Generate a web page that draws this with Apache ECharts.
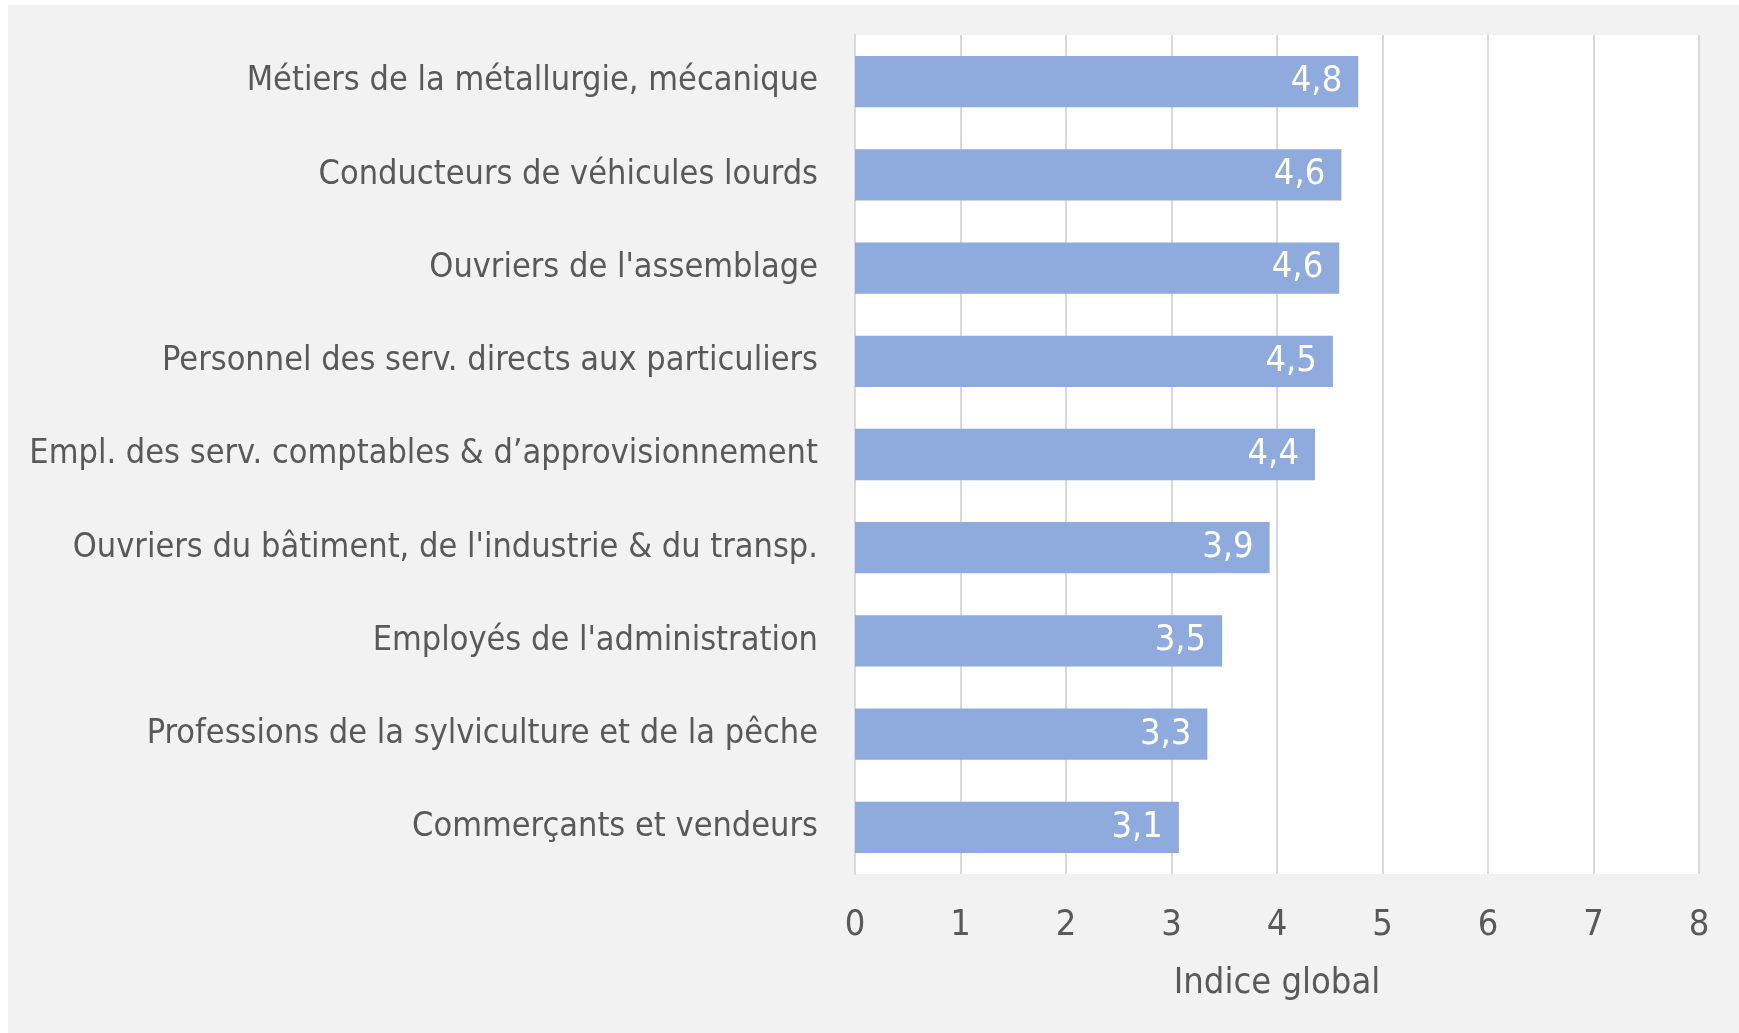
<!DOCTYPE html>
<html>
<head>
<meta charset="utf-8">
<title>Indice global par métier</title>
<script src="https://cdn.jsdelivr.net/npm/echarts@6/dist/echarts.min.js"></script>
<style>
  html, body { margin: 0; padding: 0; background: #ffffff; }
  #main { position: absolute; left: 8px; top: 5px; width: 1731px; height: 1028px; }
</style>
</head>
<body>
<div id="main"></div>
<script>
// categories, from bottom to top (as the category axis draws them)
var metiers = [
    'Commerçants et vendeurs',
    'Professions de la sylviculture et de la pêche',
    "Employés de l'administration",
    "Ouvriers du bâtiment, de l'industrie & du transp.",
    'Empl. des serv. comptables & d’approvisionnement',
    'Personnel des serv. directs aux particuliers',
    "Ouvriers de l'assemblage",
    'Conducteurs de véhicules lourds',
    'Métiers de la métallurgie, mécanique'
];
var indice = [3.07, 3.34, 3.48, 3.93, 4.36, 4.53, 4.59, 4.61, 4.77];
var axisTicks = [0, 1, 2, 3, 4, 5, 6, 7, 8];

var font = '"Liberation Sans Narrow", "DejaVu Sans Condensed", sans-serif';

var chartDom = document.getElementById('main');
var myChart = echarts.init(chartDom);

var option = {
    backgroundColor: '#f2f2f2',
    animation: false,
    grid: {
        left: 847,
        top: 30,
        width: 844,
        height: 839,
        outerBoundsMode: 'none',
        containLabel: false,
        show: true,
        backgroundColor: '#ffffff',
        borderWidth: 0
    },
    xAxis: {
        type: 'value',
        min: axisTicks[0],
        max: axisTicks[axisTicks.length - 1],
        interval: 1,
        name: 'Indice global',
        nameLocation: 'middle',
        nameGap: 92,
        nameTextStyle: { fontFamily: font, fontSize: 36, color: '#595959' },
        axisLine: { show: false },
        axisTick: { show: false },
        axisLabel: { fontFamily: font, fontSize: 36, color: '#595959', margin: 34 },
        splitLine: { lineStyle: { color: '#d9d9d9', width: 2 } }
    },
    yAxis: {
        type: 'category',
        data: metiers,
        axisLine: { show: true, lineStyle: { color: '#d9d9d9', width: 2 } },
        axisTick: { show: false },
        axisLabel: { fontFamily: font, fontSize: 34, color: '#595959', margin: 37 }
    },
    series: [{
        type: 'bar',
        data: indice,
        barWidth: '55%',
        itemStyle: { color: '#8faadc' },
        label: {
            show: true,
            position: 'insideRight',
            distance: 16,
            fontFamily: font,
            fontSize: 36,
            color: '#ffffff',
            formatter: function (p) {
                return p.value.toFixed(1).replace('.', ',');
            }
        }
    }]
};

option && myChart.setOption(option);
</script>
</body>
</html>
